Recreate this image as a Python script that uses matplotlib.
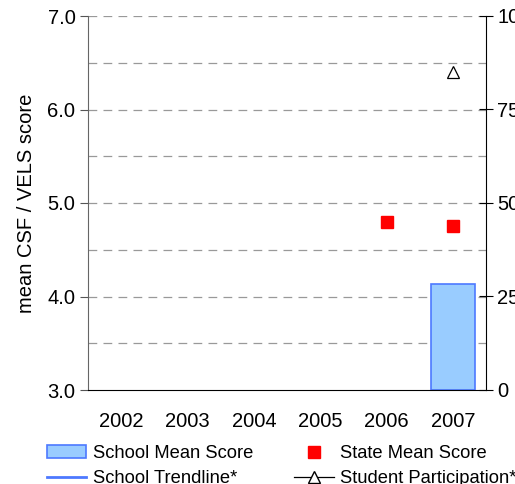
import numpy as np
import matplotlib
matplotlib.use("Agg")
import matplotlib.pyplot as plt
from matplotlib.patches import Patch
from matplotlib.lines import Line2D

plt.rcParams['font.family'] = ['Liberation Sans', 'DejaVu Sans']

years = ['2002', '2003', '2004', '2005', '2006', '2007']
school_mean = [np.nan, np.nan, np.nan, np.nan, np.nan, 4.13]
state_mean = [np.nan, np.nan, np.nan, np.nan, 4.80, 4.75]
participation = [np.nan, np.nan, np.nan, np.nan, np.nan, 85]
y_ticks = [3.0, 4.0, 5.0, 6.0, 7.0]
y2_ticks = [0, 25, 50, 75, 100]

fig = plt.figure(figsize=(5.15, 4.84), dpi=100)
ax = fig.add_axes([88/515, 1-390/484, 398/515, 374/484])
x = np.arange(len(years))

ax.set_ylim(3.0, 7.0)
ax.set_xlim(-0.5, len(years)-0.5)
for g in np.arange(3.5, 7.01, 0.5):
    ax.axhline(g, color='#999999', lw=0.9, ls=(0, (7, 5)), zorder=0)

bar_bottom = 3.0
ax.bar(x, np.array(school_mean) - bar_bottom, bottom=bar_bottom, width=0.66,
       color='#99ccff', edgecolor='#4d79ff', lw=1.2, zorder=2)
ax.plot(x, state_mean, ls='none', marker='s', ms=8.5, color='#ff0000', zorder=3)

fs = 14.5
ax.set_yticks(y_ticks)
ax.set_yticklabels([f'{v:.1f}' for v in y_ticks], fontsize=fs)
ax.set_xticks(x)
ax.set_xticklabels(years, fontsize=fs)
ax.tick_params(axis='x', length=0, pad=16)
ax.tick_params(axis='y', length=6, direction='out', color='#555555', pad=3)
ax.set_ylabel('mean CSF / VELS score', fontsize=fs, labelpad=8)
ax.spines['top'].set_visible(False)
ax.spines['right'].set_visible(False)
ax.spines['left'].set_color('#666666')
ax.spines['bottom'].set_color('black')

ax2 = ax.twinx()
ax2.set_ylim(0, 100)
ax2.plot(x, participation, ls='none', marker='^', ms=8.5, mfc='white', mec='black', mew=0.9, zorder=4)
ax2.set_yticks(y2_ticks)
ax2.set_yticklabels([str(v) for v in y2_ticks], fontsize=fs)
ax2.tick_params(axis='y', length=10, direction='inout', pad=3)
ax2.spines['top'].set_visible(False)
ax2.spines['left'].set_visible(False)
ax2.spines['bottom'].set_visible(False)
ax2.spines['right'].set_color('black')

handles = [
    Patch(facecolor='#99ccff', edgecolor='#4d79ff', lw=1.2),
    Line2D([], [], color='#4d79ff', lw=2),
    Line2D([], [], ls='none', marker='s', ms=8.5, color='#ff0000'),
    Line2D([], [], color='black', lw=0.9, marker='^', ms=8.5, mfc='white', mec='black'),
]
labels = ['School Mean Score', 'School Trendline*', 'State Mean Score', 'Student Participation*']
fig.legend(handles, labels, loc='upper left', bbox_to_anchor=(47/515, 1-445/484), ncol=2,
           frameon=False, fontsize=13.2, handlelength=2.15, handletextpad=0.38,
           columnspacing=2.2, labelspacing=0.45, borderpad=0, borderaxespad=0)

fig.savefig('out.png', dpi=100)
